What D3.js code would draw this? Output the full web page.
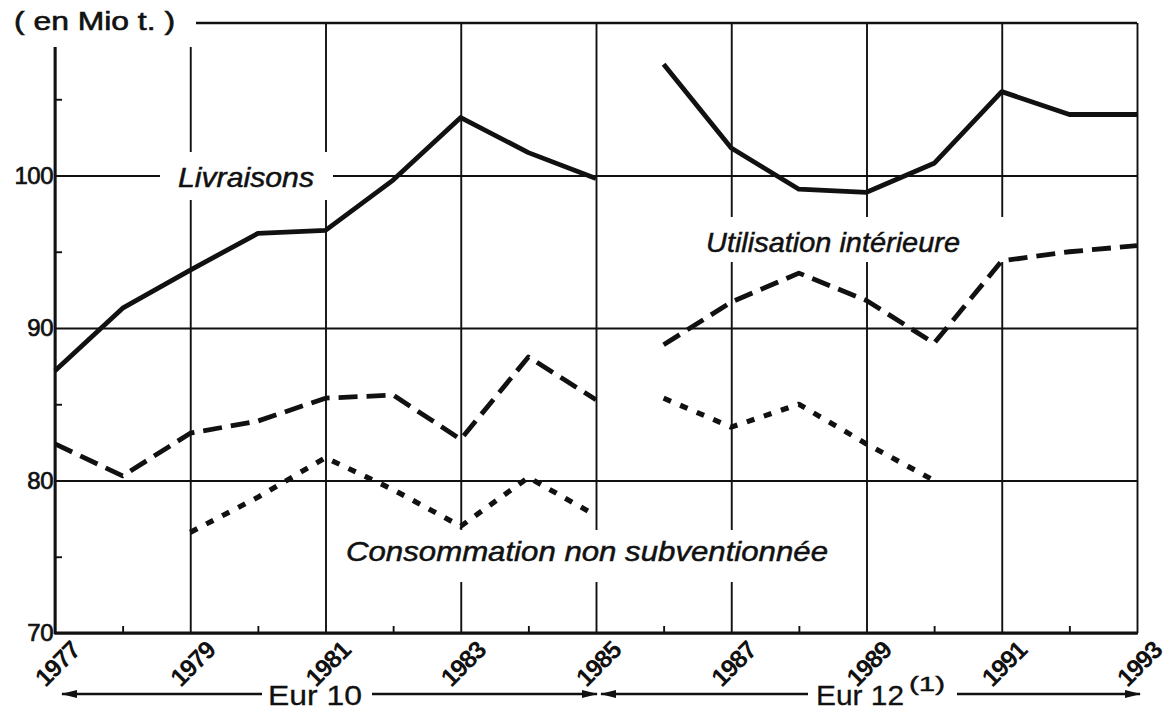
<!DOCTYPE html>
<html><head><meta charset="utf-8">
<script src="https://cdn.jsdelivr.net/npm/d3@7"></script>
<style>
body{margin:0;background:#fff;}
text{font-family:"Liberation Sans",Arial,Helvetica,sans-serif;fill:#111;}
</style>
</head><body>
<svg id="c" width="1168" height="727"></svg>
<script>
// ---- data ----
const yearsEur10 = [1977, 1978, 1979, 1980, 1981, 1982, 1983, 1984, 1985];
const yearsEur12 = [1986, 1987, 1988, 1989, 1990, 1991, 1992, 1993];
const livraisonsEur10 = [87.2, 91.3, 93.8, 96.2, 96.4, 99.7, 103.8, 101.5, 99.8];
const livraisonsEur12 = [107.3, 101.8, 99.1, 98.9, 100.8, 105.5, 104.0, 104.0];
const utilisationEur10 = [82.4, 80.3, 83.1, 83.9, 85.4, 85.6, 82.7, 88.1, 85.3];
const utilisationEur12 = [88.9, 91.7, 93.6, 91.8, 89.0, 94.4, 95.0, 95.4];
const consoYearsEur10 = [1979, 1980, 1981, 1982, 1983, 1984, 1985];
const consoYearsEur12 = [1986, 1987, 1988, 1989, 1990];
const consoEur10 = [76.6, 78.9, 81.5, 79.4, 77.0, 80.2, 77.7];
const consoEur12 = [85.4, 83.5, 85.0, 82.4, 80.0];
const yTickLabels = [70, 80, 90, 100];
const yMinorTicks = [75, 85, 95, 105];
const xTickLabels = [1977, 1979, 1981, 1983, 1985, 1987, 1989, 1991, 1993];
const xMinorTicks = [1978, 1980, 1982, 1984, 1986, 1988, 1990, 1992];
const unitLabel = "( en Mio t. )";
const seriesLabels = ["Livraisons", "Utilisation  intérieure", "Consommation non subventionnée"];
const periodLabels = ["Eur 10", "Eur 12", "(1)"];

// ---- layout ----
const svg = d3.select("#c");
const L = 55, R = 1137, T = 23, B = 633;
const x = d3.scaleLinear().domain([1977, 1993]).range([L, R]);
const y = d3.scaleLinear().domain([70, 110]).range([B, T]);
const ink = "#111";

// gridlines via axes
const gy = svg.append("g").attr("transform", `translate(${L},0)`)
  .call(d3.axisLeft(y).tickValues(yTickLabels).tickSize(-(R - L)).tickPadding(4).tickFormat(d3.format("d")));
gy.select(".domain").remove();
gy.selectAll(".tick line").attr("stroke", ink).attr("stroke-width", 1.9);
gy.selectAll(".tick text").attr("font-size", 24).attr("fill", ink).attr("dx", 2)
  .attr("stroke", ink).attr("stroke-width", 0.7).attr("letter-spacing", -0.5);

const gx = svg.append("g").attr("transform", `translate(0,${B})`)
  .call(d3.axisBottom(x).tickValues(xTickLabels).tickSize(-(B - T)).tickFormat(d3.format("d")));
gx.select(".domain").remove();
gx.selectAll(".tick line").attr("stroke", ink).attr("stroke-width", 1.9);
gx.selectAll(".tick text")
  .attr("font-size", 25).attr("font-weight", "bold").attr("fill", ink)
  .attr("letter-spacing", -1.2)
  .attr("text-anchor", "end")
  .attr("transform", "translate(26,19) rotate(-45)")
  .attr("y", 0).attr("dy", 0);

// top line
svg.append("line").attr("x1", L).attr("x2", R).attr("y1", y(110)).attr("y2", y(110))
  .attr("stroke", ink).attr("stroke-width", 2.4);

// minor ticks
const my = svg.append("g").attr("transform", `translate(${L},0)`)
  .call(d3.axisLeft(y).tickValues(yMinorTicks).tickSize(-7).tickFormat(""));
my.select(".domain").remove();
my.selectAll("line").attr("stroke", ink).attr("stroke-width", 1.9);
const mx = svg.append("g").attr("transform", `translate(0,${B})`)
  .call(d3.axisBottom(x).tickValues(xMinorTicks).tickSize(-7).tickFormat(""));
mx.select(".domain").remove();
mx.selectAll("line").attr("stroke", ink).attr("stroke-width", 1.9);

// main axes
svg.append("line").attr("x1", L).attr("x2", L).attr("y1", y(110)).attr("y2", B + 1)
  .attr("stroke", ink).attr("stroke-width", 2.8);
svg.append("line").attr("x1", L - 1).attr("x2", R + 1).attr("y1", B).attr("y2", B)
  .attr("stroke", ink).attr("stroke-width", 2.8);

// white label backgrounds (break the grid)
const boxes = [[0, 0, 196, 47], [160, 152, 173, 48], [695, 217, 311, 45], [340, 530, 502, 52]];
svg.selectAll("rect.bg").data(boxes).join("rect").attr("class", "bg")
  .attr("x", d => d[0]).attr("y", d => d[1]).attr("width", d => d[2]).attr("height", d => d[3])
  .attr("fill", "#fff");

// series lines
const line = d3.line().x(d => x(d[0])).y(d => y(d[1]));
const zip = (a, b) => a.map((v, i) => [v, b[i]]);
const series = [
  {d: zip(yearsEur10, livraisonsEur10), dash: null, w: 4.8},
  {d: zip(yearsEur12, livraisonsEur12), dash: null, w: 4.8},
  {d: zip(yearsEur10, utilisationEur10), dash: "19,9", w: 4.8},
  {d: zip(yearsEur12, utilisationEur12), dash: "19,9", w: 4.8},
  {d: zip(consoYearsEur10, consoEur10), dash: "8,10", w: 5.2},
  {d: zip(consoYearsEur12, consoEur12), dash: "8,10", w: 5.2}
];
svg.selectAll("path.s").data(series).join("path").attr("class", "s")
  .attr("d", s => line(s.d)).attr("fill", "none").attr("stroke", ink)
  .attr("stroke-width", s => s.w).attr("stroke-dasharray", s => s.dash)
  .attr("stroke-linejoin", "round");

// labels
svg.append("text").attr("x", 14).attr("y", 30).attr("font-size", 25)
  .attr("stroke", ink).attr("stroke-width", 0.6)
  .attr("textLength", 161).attr("lengthAdjust", "spacingAndGlyphs").text(unitLabel);
const lab = [
  {t: seriesLabels[0], x: 178, y: 187, w: 136},
  {t: seriesLabels[1], x: 706, y: 252, w: 254},
  {t: seriesLabels[2], x: 346, y: 561, w: 482}
];
svg.selectAll("text.lab").data(lab).join("text").attr("class", "lab")
  .attr("x", d => d.x).attr("y", d => d.y).attr("font-size", 28).attr("font-style", "italic")
  .attr("stroke", ink).attr("stroke-width", 0.5)
  .attr("textLength", d => d.w).attr("lengthAdjust", "spacingAndGlyphs").text(d => d.t);

// period arrows
const defs = svg.append("defs");
defs.append("marker").attr("id", "ah").attr("viewBox", "0 0 16 10").attr("refX", 15).attr("refY", 5)
  .attr("markerWidth", 16).attr("markerHeight", 10).attr("markerUnits", "userSpaceOnUse")
  .attr("orient", "auto").append("path").attr("d", "M0,1 L16,5 L0,9 Z").attr("fill", ink);
const ay = 694;
const arrows = [[262, 62], [372, 597], [808, 601], [957, 1140]];
svg.selectAll("line.ar").data(arrows).join("line").attr("class", "ar")
  .attr("x1", d => d[0]).attr("x2", d => d[1]).attr("y1", ay).attr("y2", ay)
  .attr("stroke", ink).attr("stroke-width", 2.4).attr("marker-end", "url(#ah)");
svg.append("text").attr("x", 268).attr("y", 705).attr("font-size", 28)
  .attr("stroke", ink).attr("stroke-width", 0.3)
  .attr("textLength", 94).attr("lengthAdjust", "spacingAndGlyphs").text(periodLabels[0]);
svg.append("text").attr("x", 816).attr("y", 705).attr("font-size", 28)
  .attr("stroke", ink).attr("stroke-width", 0.3)
  .attr("textLength", 88).attr("lengthAdjust", "spacingAndGlyphs").text(periodLabels[1]);
svg.append("text").attr("x", 909).attr("y", 691).attr("font-size", 20)
  .attr("stroke", ink).attr("stroke-width", 0.4)
  .attr("textLength", 36).attr("lengthAdjust", "spacingAndGlyphs").text(periodLabels[2]);
</script>
</body></html>
